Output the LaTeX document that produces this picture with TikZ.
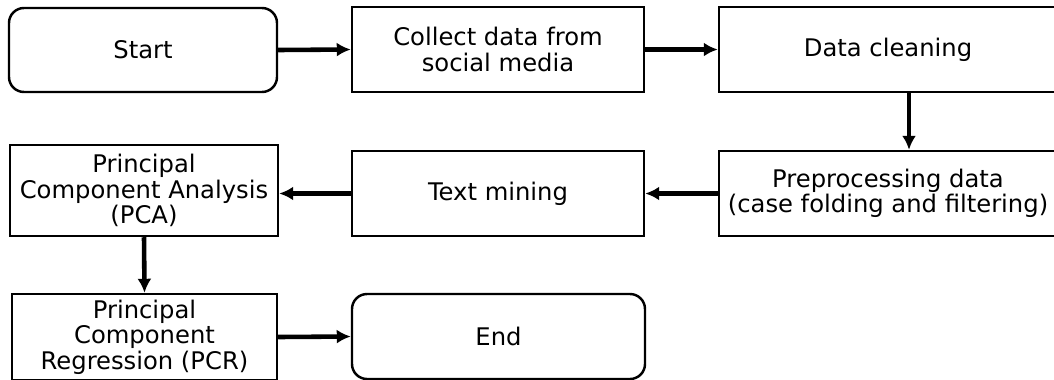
\documentclass[tikz,border=0pt]{standalone}
\usepackage{fontspec}
\setmainfont{DejaVu Sans}
\usepackage{tikz}
\usetikzlibrary{shapes,arrows.meta,positioning,calc}

\begin{document}
\begin{tikzpicture}[
        box/.style={rectangle, draw=black, line width=1.4pt,
                    minimum width=5.84cm, minimum height=1.7cm,
                    align=center, fill=white, inner sep=1pt,
                    font=\fontsize{13.8pt}{14.4pt}\selectfont},
        term/.style={box, rounded corners=0.3cm},
        arrow/.style={-{Latex[length=0.28cm,width=0.28cm]}, line width=2.6pt, draw=black}]

        \useasboundingbox (0,0) rectangle (21.08,-7.58);

        % Start node
        \node[term, minimum width=5.36cm, minimum height=1.68cm] (start) at (2.86,-1.0)
            {Start};

        % Collect node
        \node[box] (collect) at (9.96,-0.99)
            {Collect data from\\social media};

        % Cleaning node (runs past the right edge)
        \node[box, minimum width=6.76cm] (clean) at (17.76,-0.99)
            {Data cleaning};

        % Preprocessing node
        \node[box, minimum width=6.76cm] (prep) at (17.76,-3.87)
            {Preprocessing data\\(case folding and filtering)};

        % Text mining node
        \node[box] (mining) at (9.96,-3.87)
            {Text mining};

        % PCA node
        \node[box, minimum width=5.36cm, minimum height=1.82cm] (pca) at (2.88,-3.81)
            {Principal\\Component Analysis\\(PCA)};

        % PCR node
        \node[box, minimum width=5.3cm, minimum height=1.72cm] (pcr) at (2.89,-6.74)
            {Principal\\Component\\Regression (PCR)};

        % End node
        \node[term, minimum width=5.86cm] (end) at (9.97,-6.73)
            {End};

        % Arrows along the flow
        \draw[arrow] (start.east) -- (collect.west);
        \draw[arrow] (collect.east) -- (clean.west);
        \draw[arrow] ([xshift=0.42cm]clean.south) -- ([xshift=0.42cm]prep.north);
        \draw[arrow] (prep.west) -- (mining.east);
        \draw[arrow] (mining.west) -- (mining.west -| pca.east);
        \draw[arrow] (pca.south) -- (pcr.north);
        \draw[arrow] (pcr.east) -- (end.west);

    \end{tikzpicture}
\end{document}
